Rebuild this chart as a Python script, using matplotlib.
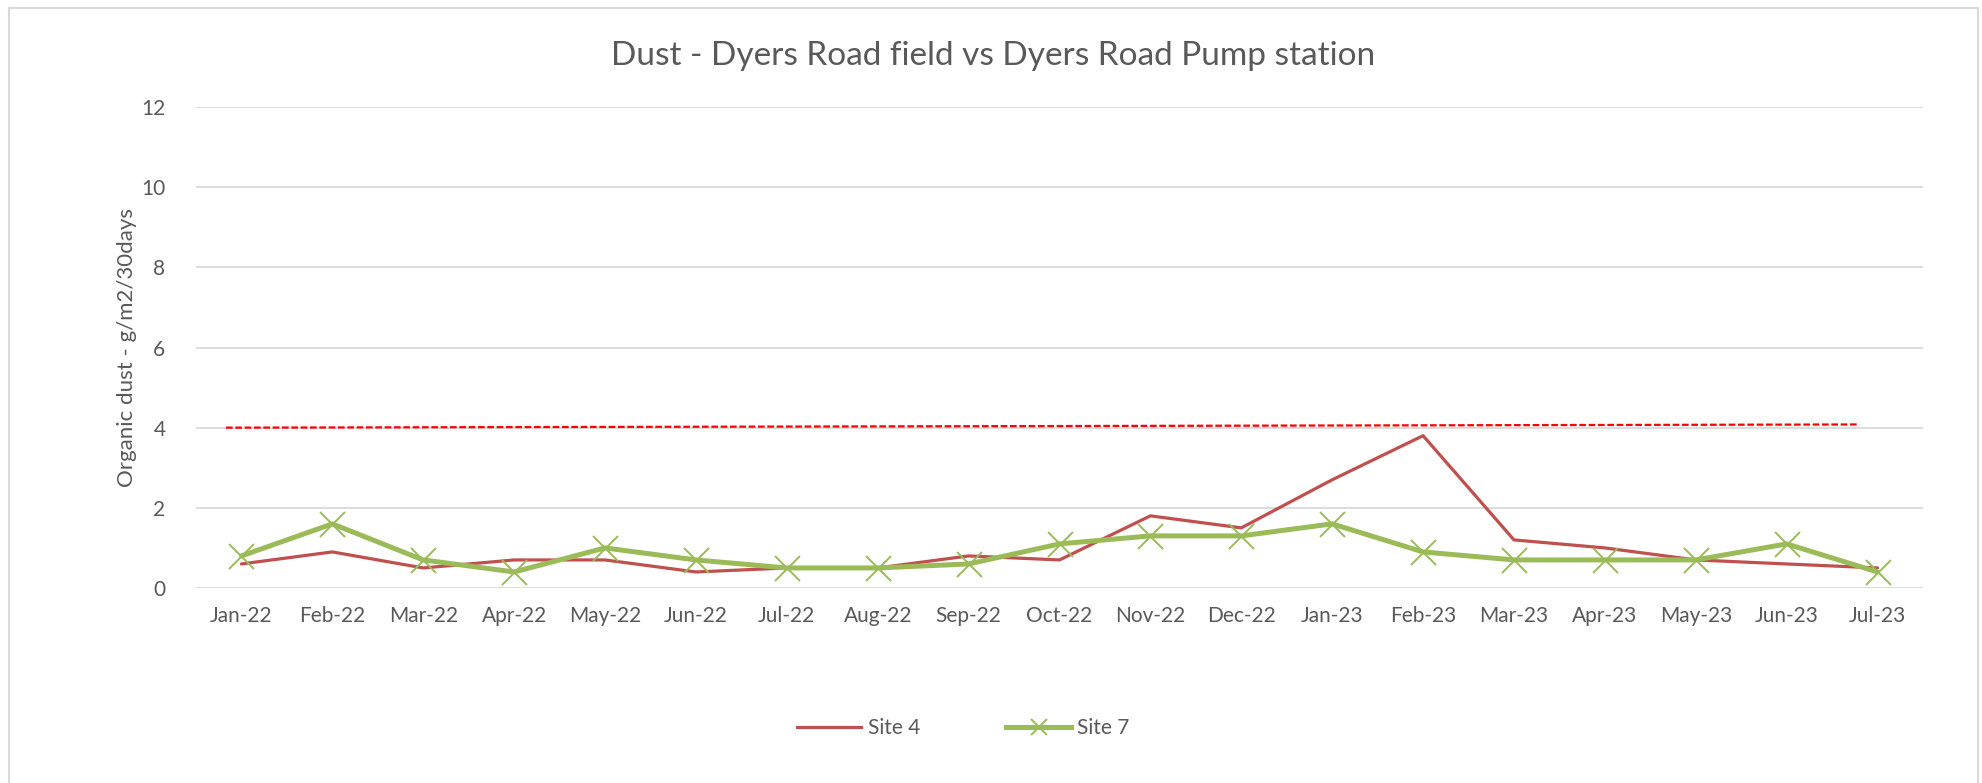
import matplotlib
matplotlib.use("Agg")
import matplotlib.pyplot as plt
from matplotlib.lines import Line2D
import numpy as np

months = ["Jan-22", "Feb-22", "Mar-22", "Apr-22", "May-22", "Jun-22", "Jul-22",
          "Aug-22", "Sep-22", "Oct-22", "Nov-22", "Dec-22", "Jan-23", "Feb-23",
          "Mar-23", "Apr-23", "May-23", "Jun-23", "Jul-23"]
site4 = [0.6, 0.9, 0.5, 0.7, 0.7, 0.4, 0.5, 0.5, 0.8, 0.7, 1.8, 1.5, 2.7, 3.8,
         1.2, 1.0, 0.7, 0.6, 0.5]
site7 = [0.8, 1.6, 0.7, 0.4, 1.0, 0.7, 0.5, 0.5, 0.6, 1.1, 1.3, 1.3, 1.6, 0.9,
         0.7, 0.7, 0.7, 1.1, 0.4]
# hand-drawn limit line (category positions and values at its two ends)
limit_x = [-0.17, 17.8]
limit_y = [4.0, 4.08]
yticks = [0, 2, 4, 6, 8, 10, 12]

plt.rcParams['font.family'] = ['Lato', 'DejaVu Sans']
TXT = '#595959'
RED = '#C0504D'
GREEN = '#9BBB59'

fig = plt.figure(figsize=(19.82, 7.83), dpi=100)
ax = fig.add_axes([196/1982, 1-588/783, (1923-196)/1982, (588-107)/783])

x = np.arange(len(months))
ax.plot(x, site4, color=RED, lw=2.3, solid_capstyle='round', zorder=3)
ax.plot(x, site7, color=GREEN, lw=3.6, marker='x', markersize=18,
        markeredgewidth=1.4, solid_capstyle='round', zorder=4)
ax.plot(limit_x, limit_y, color='#FF0000', lw=1.6, dashes=(3, 1.2), zorder=2)

ax.set_xlim(-0.5, len(months) - 0.5)
ax.set_ylim(0, 12)
ax.set_yticks(yticks)
ax.set_xticks(x)
ax.set_xticklabels(months)
ax.grid(axis='y', color='#D9D9D9', lw=1.3)
ax.set_axisbelow(True)
for s in ax.spines.values():
    s.set_visible(False)
ax.tick_params(axis='both', length=0, labelsize=15, colors=TXT)
ax.tick_params(axis='x', pad=13)
ax.tick_params(axis='y', pad=22)
ax.set_ylabel("Organic dust - g/m2/30days", fontsize=16, color=TXT, labelpad=3)

fig.text(0.501, 0.929, "Dust - Dyers Road field vs Dyers Road Pump station",
         ha='center', va='center', fontsize=24, color=TXT)

handles = [Line2D([], [], color=RED, lw=2.3),
           Line2D([], [], color=GREEN, lw=3.6, marker='x', markersize=12,
                  markeredgewidth=1.4)]
fig.legend(handles, ["Site 4", "Site 7"], loc='center', bbox_to_anchor=(0.486, 0.07),
           ncol=2, frameon=False, fontsize=15, labelcolor=TXT,
           handlelength=3.1, handletextpad=0.3, columnspacing=4.15)

# outer chart border (top, left, right)
bc = '#D9D9D9'
fig.add_artist(Line2D([9/1982, 9/1982], [0, 1-8/783], color=bc, lw=1.5, transform=fig.transFigure))
fig.add_artist(Line2D([9/1982, 1978/1982], [1-8/783, 1-8/783], color=bc, lw=1.5, transform=fig.transFigure))
fig.add_artist(Line2D([1978/1982, 1978/1982], [0, 1-8/783], color=bc, lw=1.5, transform=fig.transFigure))

fig.savefig("out.png", dpi=100, facecolor='white')
